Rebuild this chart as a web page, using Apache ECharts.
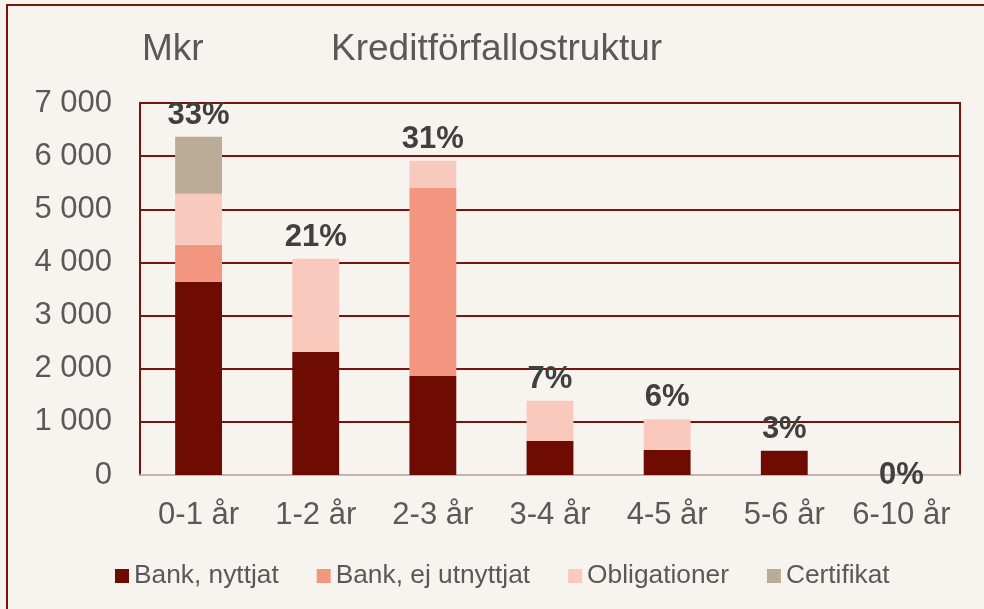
<!DOCTYPE html>
<html lang="sv">
<head>
    <meta charset="UTF-8">
    <title>Kreditförfallostruktur</title>
    <script src="https://cdn.jsdelivr.net/npm/echarts@6/dist/echarts.min.js"></script>
    <style>
        html, body { margin: 0; padding: 0; background: #F7F4EF; }
        #chart { width: 984px; height: 609px; }
    </style>
</head>
<body>
    <div id="chart"></div>
    <script>
        var categories = ['0-1 år', '1-2 år', '2-3 år', '3-4 år', '4-5 år', '5-6 år', '6-10 år'];
        var bankNyttjat = [3635, 2316, 1864, 640, 471, 458, 0];
        var bankEjUtnyttjat = [696, 0, 3541, 0, 0, 0, 0];
        var obligationer = [961, 1752, 508, 759, 578, 0, 0];
        var certifikat = [1073, 0, 0, 0, 0, 0, 0];
        var andelar = ['33%', '21%', '31%', '7%', '6%', '3%', '0%'];

        var textGrey = '#595959';
        var darkRed = '#7A1309';

        var chart = echarts.init(document.getElementById('chart'));

        function barSeries(name, data, color) {
            return {
                name: name,
                type: 'bar',
                stack: 'kredit',
                barWidth: '40%',
                data: data,
                itemStyle: { color: color },
                emphasis: { disabled: true }
            };
        }

        // tom stapel överst i stacken som bär andelsetiketten
        var andelData = categories.map(function (c, i) {
            var total = bankNyttjat[i] + bankEjUtnyttjat[i] + obligationer[i] + certifikat[i];
            if (total === 0) {
                return { value: 0, label: { position: 'inside' } };
            }
            return 0;
        });

        var option = {
            backgroundColor: '#F7F4EF',
            animation: false,
            textStyle: { fontFamily: 'Liberation Sans, Arial, sans-serif' },
            graphic: [{
                type: 'rect',
                shape: { x: 7, y: 5, width: 1000, height: 700 },
                style: { fill: 'none', stroke: darkRed, lineWidth: 2 },
                silent: true
            }],
            title: [{
                text: 'Mkr',
                left: 142,
                top: 31,
                padding: 0,
                textStyle: { color: textGrey, fontSize: 37, fontWeight: 'normal' }
            }, {
                text: 'Kreditförfallostruktur',
                left: 331,
                top: 31,
                padding: 0,
                textStyle: { color: textGrey, fontSize: 37, fontWeight: 'normal' }
            }],
            legend: {
                data: ['Bank, nyttjat', 'Bank, ej utnyttjat', 'Obligationer', 'Certifikat'],
                left: 110,
                top: 558,
                itemWidth: 14,
                itemHeight: 14,
                itemGap: 38,
                icon: 'rect',
                textStyle: { color: textGrey, fontSize: 26.3 }
            },
            grid: {
                left: 140,
                right: 24,
                top: 103,
                bottom: 134,
                show: true,
                borderColor: darkRed,
                borderWidth: 2
            },
            xAxis: {
                type: 'category',
                data: categories,
                axisTick: { show: false },
                axisLine: { lineStyle: { color: '#C4B4B2', width: 2 } },
                axisLabel: { color: textGrey, fontSize: 31, margin: 25, interval: 0 }
            },
            yAxis: {
                type: 'value',
                min: 0,
                max: 7000,
                interval: 1000,
                axisLine: { show: true, lineStyle: { color: darkRed, width: 2 } },
                axisTick: { show: false },
                splitLine: { lineStyle: { color: darkRed, width: 2 } },
                axisLabel: {
                    color: textGrey,
                    fontSize: 31,
                    margin: 28,
                    formatter: function (v) {
                        return String(v).replace(/\B(?=(\d{3})+(?!\d))/g, ' ');
                    }
                }
            },
            series: [
                barSeries('Bank, nyttjat', bankNyttjat, '#6E0C03'),
                barSeries('Bank, ej utnyttjat', bankEjUtnyttjat, '#F2967F'),
                barSeries('Obligationer', obligationer, '#FAC9BD'),
                barSeries('Certifikat', certifikat, '#BBAC98'),
                {
                    name: 'andel',
                    type: 'bar',
                    stack: 'kredit',
                    barWidth: '40%',
                    data: andelData,
                    itemStyle: { color: 'transparent' },
                    label: {
                        show: true,
                        position: 'top',
                        distance: 6,
                        color: '#404040',
                        fontSize: 31,
                        fontWeight: 'bold',
                        formatter: function (p) { return andelar[p.dataIndex]; }
                    },
                    emphasis: { disabled: true }
                }
            ]
        };

        chart.setOption(option);
    </script>
</body>
</html>
